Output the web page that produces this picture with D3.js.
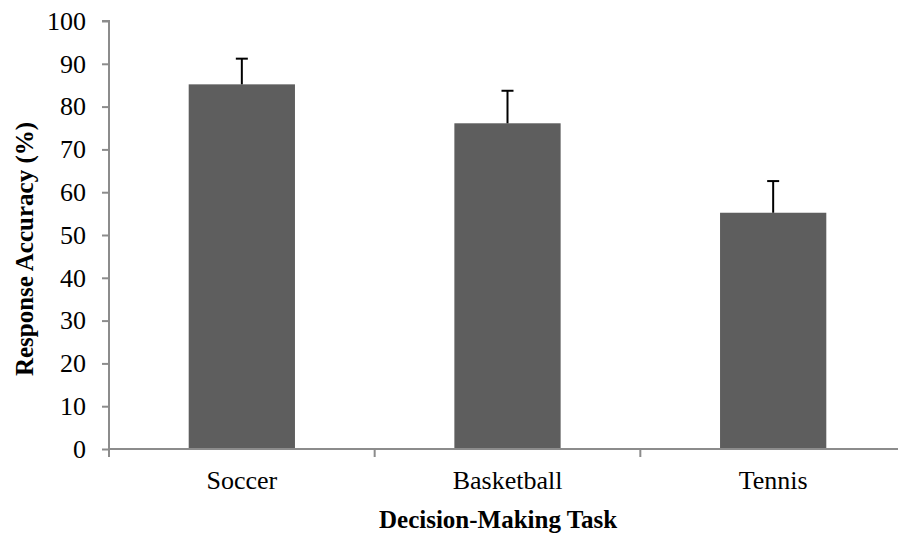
<!DOCTYPE html>
<html>
<head>
<meta charset="utf-8">
<script src="https://cdn.jsdelivr.net/npm/d3@7"></script>
<style>
  html, body { margin: 0; padding: 0; background: #fff; }
  svg { display: block; }
  text { font-family: "Liberation Serif", "Times New Roman", serif; }
</style>
</head>
<body>
<svg id="chart" width="898" height="535"></svg>
<script>
const categories = ["Soccer", "Basketball", "Tennis"];
const values = [85.2, 76.1, 55.2];
const errors = [6.0, 7.6, 7.4];
const yTicks = [0, 10, 20, 30, 40, 50, 60, 70, 80, 90, 100];
const xTitle = "Decision-Making Task";
const yTitle = "Response Accuracy (%)";

const svg = d3.select("#chart");
const mLeft = 109, mRight = 906, mTop = 21, mBottom = 449;

const x = d3.scaleBand().domain(categories).range([mLeft, mRight]).paddingInner(0).paddingOuter(0);
const y = d3.scaleLinear().domain([0, 100]).range([mBottom, mTop]);

const axisColor = "#8c8c8c";

// Bars
const barW = x.bandwidth() * 0.4;
svg.append("g").selectAll("rect").data(categories).join("rect")
  .attr("x", d => x(d) + (x.bandwidth() - barW) / 2)
  .attr("y", (d, i) => y(values[i]))
  .attr("width", barW)
  .attr("height", (d, i) => y(0) - y(values[i]))
  .attr("fill", "#5e5e5e");

// Error bars
const eb = svg.append("g").attr("stroke", "#000").attr("stroke-width", 2);
categories.forEach((c, i) => {
  const cx = x(c) + x.bandwidth() / 2;
  eb.append("line").attr("x1", cx).attr("x2", cx)
    .attr("y1", y(values[i])).attr("y2", y(values[i] + errors[i]));
  eb.append("line").attr("x1", cx - 6).attr("x2", cx + 6)
    .attr("y1", y(values[i] + errors[i])).attr("y2", y(values[i] + errors[i]));
});

// Y axis
const yAxis = svg.append("g").attr("transform", `translate(${mLeft},0)`)
  .call(d3.axisLeft(y).tickValues(yTicks).tickSize(7).tickPadding(16).tickFormat(d3.format("d")));
yAxis.select(".domain").attr("stroke", axisColor).attr("stroke-width", 2)
  .attr("d", `M-7,${mTop}H0V${mBottom}`);
yAxis.selectAll(".tick line").attr("stroke", axisColor).attr("stroke-width", 2);
yAxis.selectAll(".tick text").attr("font-size", 26).attr("fill", "#000")
  .style("font-family", "'Liberation Serif', serif");

// X axis
const xAxis = svg.append("g").attr("transform", `translate(0,${mBottom})`)
  .call(d3.axisBottom(x).tickSize(0).tickPadding(22));
xAxis.select(".domain").attr("stroke", axisColor).attr("stroke-width", 2)
  .attr("d", `M${mLeft},0H${mRight}`);
xAxis.selectAll(".tick text").attr("font-size", 26).attr("fill", "#000")
  .style("font-family", "'Liberation Serif', serif");
// boundary ticks
const bounds = categories.map(c => x(c)).concat([x(categories[categories.length - 1]) + x.bandwidth()]);
xAxis.append("g").selectAll("line").data(bounds).join("line")
  .attr("x1", d => d).attr("x2", d => d).attr("y1", 0).attr("y2", 8)
  .attr("stroke", axisColor).attr("stroke-width", 2);

// Titles
svg.append("text").attr("x", 379).attr("y", 528).attr("text-anchor", "start")
  .attr("font-size", 25).attr("font-weight", "bold").text(xTitle);
svg.append("text").attr("transform", `translate(33,249) rotate(-90)`).attr("text-anchor", "middle")
  .attr("font-size", 25).attr("font-weight", "bold").text(yTitle);
</script>
</body>
</html>
